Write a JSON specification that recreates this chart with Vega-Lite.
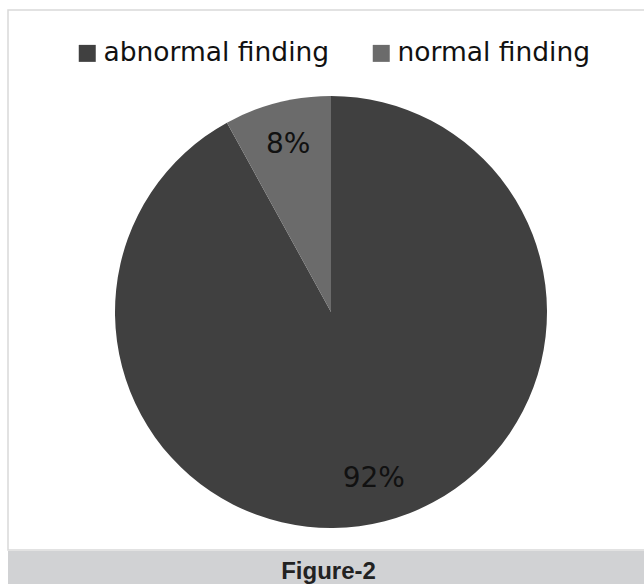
{
  "$schema": "https://vega.github.io/schema/vega-lite/v6.json",
  "background": "white",
  "padding": {"left": 7, "top": 9, "right": 0, "bottom": 0},
  "spacing": 0,
  "vconcat": [
    {
      "width": 637,
      "height": 540,
      "view": {"fill": "white", "stroke": "#d9d9d9", "strokeWidth": 1.5},
      "data": {
        "values": [
          {"finding": "abnormal finding", "pct": 92, "label": "92%"},
          {"finding": "normal finding", "pct": 8, "label": "8%"}
        ]
      },
      "encoding": {
        "theta": {"field": "pct", "type": "quantitative", "stack": true},
        "order": {"field": "finding", "sort": "ascending"}
      },
      "layer": [
        {
          "mark": {"type": "arc", "outerRadius": 216, "x": 323, "y": 302},
          "encoding": {
            "color": {
              "field": "finding",
              "type": "nominal",
              "scale": {"domain": ["abnormal finding", "normal finding"], "range": ["#404040", "#6b6b6b"]},
              "legend": {
                "title": null,
                "orient": "none",
                "direction": "horizontal",
                "legendX": 66,
                "legendY": 30,
                "symbolType": "square",
                "symbolSize": 289,
                "symbolStrokeWidth": 0,
                "labelFont": "DejaVu Sans",
                "labelFontSize": 26.5,
                "labelColor": "#111111",
                "labelOffset": 3,
                "columnPadding": 38,
                "labelLimit": 400
              }
            }
          }
        },
        {
          "mark": {
            "type": "text",
            "radius": 172,
            "x": 323,
            "y": 302,
            "font": "DejaVu Sans",
            "fontSize": 28,
            "fill": "#111111"
          },
          "encoding": {
            "text": {"field": "label", "type": "nominal"}
          }
        }
      ]
    },
    {
      "width": 637,
      "height": 35,
      "view": {"fill": "#d1d2d4", "stroke": null},
      "data": {"values": [{"caption": "Figure-2"}]},
      "mark": {
        "type": "text",
        "font": "Liberation Sans",
        "fontWeight": "bold",
        "fontSize": 24,
        "fill": "#222222",
        "baseline": "alphabetic",
        "x": 320.5,
        "y": 28
      },
      "encoding": {
        "text": {"field": "caption", "type": "nominal"}
      }
    }
  ]
}
